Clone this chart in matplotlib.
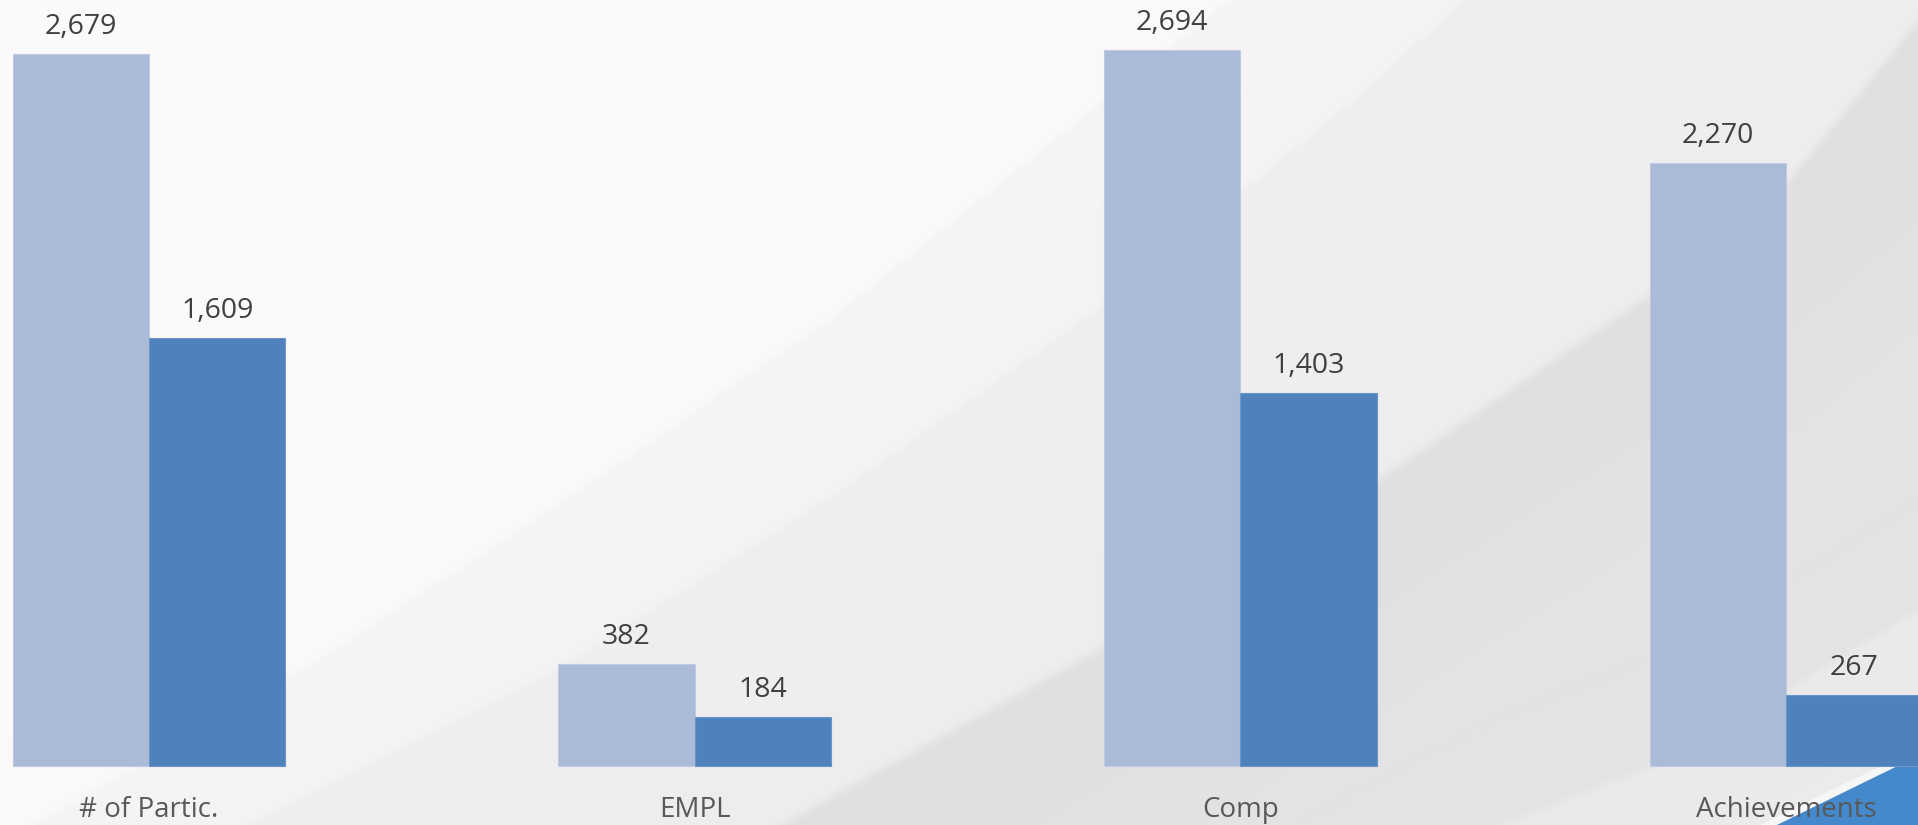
import numpy as np
import matplotlib.pyplot as plt
from matplotlib.patches import Polygon

# chart data
categories = ['# of Partic.', 'EMPL', 'Comp', 'Achievements']
series_a = [2679, 382, 2694, 2270]
series_b = [1609, 184, 1403, 267]

W, H = 1918, 825
light_col = '#ABBAD7'
dark_col = '#4F81BD'
plt.rcParams['font.family'] = ['Open Sans', 'DejaVu Sans']

fig = plt.figure(figsize=(W / 100, H / 100), dpi=100)

# slide-like background: soft diagonal swooshes
bg = fig.add_axes([0, 0, 1, 1], zorder=0)
yy, xx = np.mgrid[0:H, 0:W].astype(float)
img = np.full((H, W), 250.0)
bands = [
    ([-100, 287, 557, 833, 1103, 1228, 1400, 2000], [900, 679, 505, 316, 100, 0, -150, -700], 244),
    ([-100, 287, 557, 833, 1103, 1378, 1461, 2000], [1000, 805, 668, 495, 305, 79, 0, -500], 238),
    ([600, 833, 1103, 1378, 1648, 1786, 1918, 2000], [930, 795, 647, 479, 295, 183, 20, -80], 224),
    ([900, 1378, 1648, 1786, 1918, 2000], [915, 610, 437, 335, 223, 160], 227),
    ([1300, 1500, 1650, 1786, 1918, 2000], [930, 825, 767, 690, 610, 560], 235),
]
for bx, by, c in bands:
    yb = np.interp(xx[0], bx, by)
    m = 1 / (1 + np.exp(-(yy - yb[None, :]) / 3.0))
    img = img * (1 - m) + c * m
rgb = np.dstack([img + 1, img - 1, img]).clip(0, 255) / 255
bg.imshow(rgb, extent=[0, W, H, 0], aspect='auto', interpolation='bilinear')
bg.add_patch(Polygon([(1760, 825), (1918, 748), (1918, 756), (1777, 825)],
                     closed=True, color='#F7F7F7', lw=0))
bg.add_patch(Polygon([(1777, 825), (1918, 756), (1918, 825)],
                     closed=True, color='#4389CC', lw=0))
bg.set_xlim(0, W)
bg.set_ylim(H, 0)
bg.axis('off')

# bars
ax = fig.add_axes([0, 0, 1, 1], zorder=1)
ax.patch.set_alpha(0)
x = np.arange(len(categories))
w = 0.25
ax.bar(x - w / 2, series_a, w, color=light_col, edgecolor='#BFCBE1', linewidth=0.8)
ax.bar(x + w / 2, series_b, w, color=dark_col, edgecolor='#6B96C9', linewidth=0.8)

for xi, a, b in zip(x, series_a, series_b):
    ax.annotate(f'{a:,}', (xi - w / 2, a), xytext=(0, 14.4), textcoords='offset points',
                ha='center', va='baseline', fontsize=20.5, color='#404040')
    ax.annotate(f'{b:,}', (xi + w / 2, b), xytext=(0, 14.4), textcoords='offset points',
                ha='center', va='baseline', fontsize=20.5, color='#404040')

for xi, name in zip(x, categories):
    ax.annotate(name, (xi, 0), xytext=(0, -36.7), textcoords='offset points',
                ha='center', va='baseline', fontsize=20, color='#595959')

ax.set_xlim(-0.2731, 3.2419)
ax.set_ylim(-222, 2882)
ax.axis('off')

fig.savefig('out.png', dpi=100)
